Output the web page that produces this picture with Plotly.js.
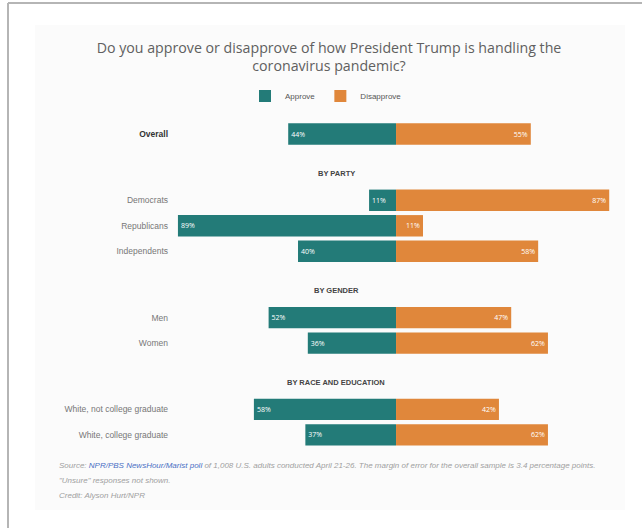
<!DOCTYPE html>
<html>
<head>
<meta charset="utf-8">
<script src="https://cdn.plot.ly/plotly-3.0.1.min.js"></script>
<style>html,body{margin:0;padding:0;background:#fff;}#chart{width:642px;height:528px;}</style>
</head>
<body>
<div id="chart"></div>
<script>
// ---- data ----
const categories = ["Overall","Democrats","Republicans","Independents","Men","Women","White, not college graduate","White, college graduate"];
const groups = [0,1,1,1,2,2,3,3];               // section index of each row
const sectionHeaders = ["BY PARTY","BY GENDER","BY RACE AND EDUCATION"]; // precede groups 1..3
const approve    = [44,11,89,40,52,36,58,37];
const disapprove = [55,87,11,58,47,62,42,62];
const seriesNames = ["Approve","Disapprove"];

// ---- layout helpers ----
const W = 642, H = 528;
const M = {l:175, r:22, t:110, b:68};
const PW = W - M.l - M.r, PH = H - M.t - M.b;
const GAP = 1.6;                                   // extra rows between sections
const ypos = categories.map((c,i)=> i + groups[i]*GAP);
const headerPos = sectionHeaders.map((h,k)=>{
  const first = groups.indexOf(k+1);
  return ypos[first] - 1.05;
});
const px = x => (x - M.l)/PW;
const py = y => (H - M.b - y)/PH;

const teal = "#237b78", orange = "#e0873b";
const tickText = categories.map((c,i)=> i===0
  ? '<b><span style="color:#333">'+c+'</span></b>'
  : c);

const traces = [
  {type:"bar", orientation:"h", name:seriesNames[0], y:ypos, x:approve.map(v=>-v),
   text:approve.map(v=>v+"%"), textposition:"inside", insidetextanchor:"end",
   textfont:{color:"#fff", size:7, family:"Open Sans"}, marker:{color:teal},
   width:0.84, hoverinfo:"skip"},
  {type:"bar", orientation:"h", name:seriesNames[1], y:ypos, x:disapprove,
   text:disapprove.map(v=>v+"%"), textposition:"inside", insidetextanchor:"end",
   textfont:{color:"#fff", size:7, family:"Open Sans"}, marker:{color:orange},
   width:0.84, hoverinfo:"skip"}
];

const annotations = sectionHeaders.map((h,k)=>({
  text:"<b>"+h+"</b>", xref:"paper", x:px(336), yref:"y", y:headerPos[k],
  showarrow:false, font:{family:"Liberation Sans, Arial", size:7.5, color:"#444"},
  xanchor:"center", yanchor:"middle"
}));
const footFont = {family:"Liberation Sans, Arial", size:8, color:"#a0a0a0"};
annotations.push(
  {text:'<i>Source: <span style="color:#4a6fc4">NPR/PBS NewsHour/Marist poll</span> of 1,008 U.S. adults conducted April 21-26. The margin of error for the overall sample is 3.4 percentage points.</i>',
   xref:"paper", yref:"paper", x:px(57), y:py(465), xanchor:"left", yanchor:"middle", showarrow:false, font:footFont},
  {text:'<i>"Unsure" responses not shown.</i>',
   xref:"paper", yref:"paper", x:px(57), y:py(480), xanchor:"left", yanchor:"middle", showarrow:false, font:footFont},
  {text:'<i>Credit: Alyson Hurt/NPR</i>',
   xref:"paper", yref:"paper", x:px(57), y:py(495), xanchor:"left", yanchor:"middle", showarrow:false, font:footFont}
);

const shapes = [
  {type:"rect", xref:"paper", yref:"paper", x0:px(35), x1:px(625), y0:py(510), y1:py(25),
   fillcolor:"#fbfbfb", line:{width:0}, layer:"below"},
  {type:"line", xref:"paper", yref:"paper", x0:px(8), x1:px(642), y0:py(3), y1:py(3),
   line:{color:"#b5b5b5", width:2}, layer:"below"},
  {type:"line", xref:"paper", yref:"paper", x0:px(8), x1:px(8), y0:py(3), y1:py(528),
   line:{color:"#b5b5b5", width:2}, layer:"below"}
];

const layout = {
  width:W, height:H, margin:M,
  paper_bgcolor:"#ffffff", plot_bgcolor:"rgba(0,0,0,0)",
  barmode:"relative", showlegend:true,
  title:{text:"Do you approve or disapprove of how President Trump is handling the<br>coronavirus pandemic?",
    xref:"container", x:329/W, xanchor:"center", yref:"container", y:1-53/H, yanchor:"top",
    font:{family:"Open Sans", size:14.2, color:"#606060"}},
  legend:{orientation:"h", xref:"paper", x:px(326), xanchor:"center", yref:"paper", y:py(96), yanchor:"middle",
    font:{family:"Liberation Sans, Arial", size:8, color:"#555"}, itemwidth:30, bgcolor:"rgba(0,0,0,0)"},
  xaxis:{range:[-90.2, 91.4], showgrid:false, zeroline:false, showticklabels:false, fixedrange:true},
  yaxis:{range:[ (H-M.b-134)/25.5, -(134-M.t)/25.5 ], tickvals:ypos, ticktext:tickText,
    showgrid:false, zeroline:false, ticks:"", ticklabelstandoff:6,
    tickfont:{family:"Liberation Sans, Arial", size:8.5, color:"#777"}},
  annotations:annotations, shapes:shapes
};

Plotly.newPlot("chart", traces, layout, {displayModeBar:false, staticPlot:true});
</script>
</body>
</html>
